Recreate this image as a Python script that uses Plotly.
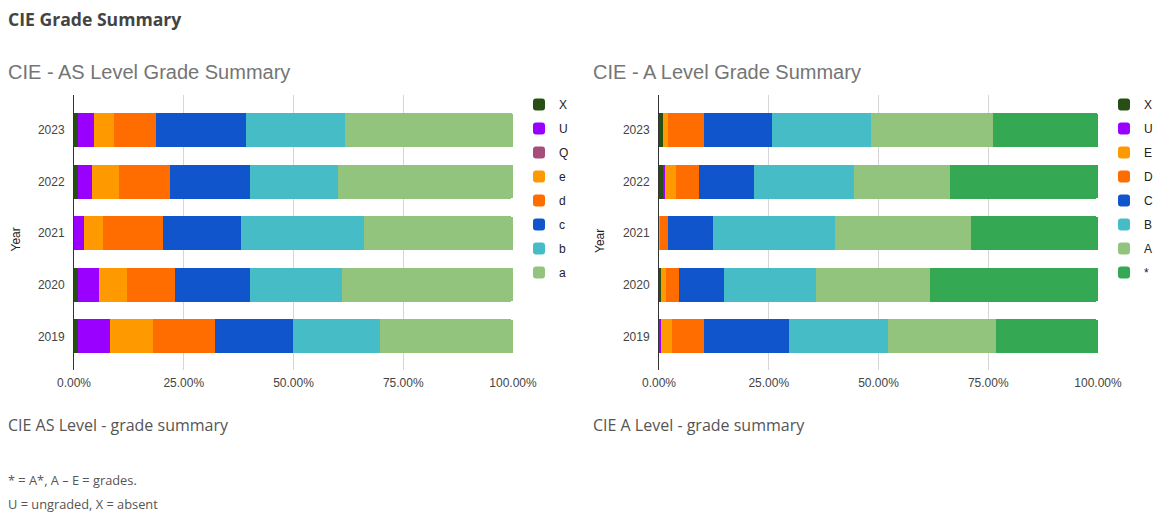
import plotly.graph_objects as go

W, H = 1154, 515

years = ["2019", "2020", "2021", "2022", "2023"]

# CIE AS Level (percent of candidates per grade, left to right in each bar)
as_grades = ["X", "U", "Q", "e", "d", "c", "b", "a"]
as_X = [0.8, 0.8, 0.0, 1.0, 0.8]
as_U = [7.3, 4.8, 2.2, 3.0, 3.7]
as_Q = [0.0, 0.0, 0.0, 0.0, 0.0]
as_e = [10.0, 6.4, 4.5, 6.2, 4.7]
as_d = [14.1, 11.1, 13.5, 11.6, 9.4]
as_c = [17.7, 17.0, 17.9, 18.4, 20.6]
as_b = [19.7, 20.9, 27.9, 19.9, 22.5]
as_a = [30.4, 39.0, 34.0, 39.9, 38.3]
as_colors = ["#274e13", "#9900ff", "#a64d79", "#ff9900", "#ff6d01", "#1155cc", "#46bdc6", "#93c47d"]

# CIE A Level
al_grades = ["X", "U", "E", "D", "C", "B", "A", "*"]
al_X = [0.0, 0.4, 0.0, 1.0, 0.8]
al_U = [0.4, 0.0, 0.0, 0.4, 0.0]
al_E = [2.6, 1.3, 0.3, 2.4, 1.3]
al_D = [7.3, 2.9, 1.8, 5.2, 8.2]
al_C = [19.2, 10.1, 10.3, 12.7, 15.5]
al_B = [22.6, 21.1, 27.7, 22.7, 22.5]
al_A = [24.6, 25.9, 30.9, 21.8, 27.7]
al_S = [23.3, 38.3, 29.0, 33.8, 24.0]
al_colors = ["#274e13", "#9900ff", "#ff9900", "#ff6d01", "#1155cc", "#46bdc6", "#93c47d", "#34a853"]

x_ticks = [0, 25, 50, 75, 100]
x_ticktext = ["0.00%", "25.00%", "50.00%", "75.00%", "100.00%"]

AXFONT = "Arial, Liberation Sans, sans-serif"
PAGEFONT = "Open Sans, sans-serif"

fig = go.Figure()

as_series = [as_X, as_U, as_Q, as_e, as_d, as_c, as_b, as_a]
for name, vals, col in zip(as_grades, as_series, as_colors):
    fig.add_trace(go.Bar(
        y=years, x=vals, orientation="h", name=name,
        marker=dict(color=col, line=dict(width=0)),
        xaxis="x", yaxis="y", legend="legend", legendgroup="as_" + name,
    ))

al_series = [al_X, al_U, al_E, al_D, al_C, al_B, al_A, al_S]
for name, vals, col in zip(al_grades, al_series, al_colors):
    fig.add_trace(go.Bar(
        y=years, x=vals, orientation="h", name=name,
        marker=dict(color=col, line=dict(width=0)),
        xaxis="x2", yaxis="y2", legend="legend2", legendgroup="al_" + name,
    ))


def xax(domain, anchor):
    return dict(
        domain=domain, anchor=anchor, range=[0, 100],
        tickvals=x_ticks, ticktext=x_ticktext,
        showgrid=True, gridcolor="#d6d6d6", gridwidth=1,
        zeroline=False, showline=False, ticks="", ticklabelstandoff=4,
        tickfont=dict(family=AXFONT, size=12, color="#444444"),
        automargin=False, fixedrange=True,
    )


def yax(domain, anchor):
    return dict(
        domain=domain, anchor=anchor, type="category",
        range=[-0.654, 4.683],
        showgrid=False, zeroline=False,
        showline=True, linecolor="#333333", linewidth=1,
        ticks="", ticklabelstandoff=6,
        tickfont=dict(family=AXFONT, size=12, color="#444444"),
        automargin=False, fixedrange=True,
    )


ydom = [1 - 370 / H, 1 - 95 / H]


def legend(xpx):
    return dict(
        x=xpx / W, y=1 - 90 / H, xanchor="left", yanchor="top",
        traceorder="grouped", tracegroupgap=5,
        font=dict(family=AXFONT, size=12, color="#222222"),
        bgcolor="rgba(0,0,0,0)", borderwidth=0,
        itemclick=False, itemdoubleclick=False,
    )


def ann(text, xpx, ypx, size, color, family, angle=0, xanchor="left"):
    return dict(
        text=text, x=xpx / W, y=1 - ypx / H, xref="paper", yref="paper",
        xanchor=xanchor, yanchor="middle", showarrow=False, textangle=angle,
        font=dict(size=size, color=color, family=family),
    )


annotations = [
    ann("<b>CIE Grade Summary</b>", 6, 19, 17.6, "#444444", PAGEFONT),
    ann("CIE - AS Level Grade Summary", 6, 72, 20, "#757575", AXFONT),
    ann("CIE - A Level Grade Summary", 591, 72, 20, "#757575", AXFONT),
    ann("Year", 15.5, 240, 12, "#222222", AXFONT, angle=-90, xanchor="center"),
    ann("Year", 600, 241, 12, "#222222", AXFONT, angle=-90, xanchor="center"),
    ann("CIE AS Level - grade summary", 6, 425, 16, "#555555", PAGEFONT),
    ann("CIE A Level - grade summary", 591, 425, 16, "#555555", PAGEFONT),
    ann("* = A*, A \u2013 E = grades.", 6, 480, 12.8, "#555555", PAGEFONT),
    ann("U = ungraded, X = absent", 6, 504, 12.8, "#555555", PAGEFONT),
]

fig.update_layout(
    width=W, height=H,
    margin=dict(l=0, r=0, t=0, b=0, pad=0, autoexpand=False),
    paper_bgcolor="white", plot_bgcolor="white",
    barmode="stack", bargap=0.346, barcornerradius=2,
    showlegend=True,
    xaxis=xax([74 / W, 513 / W], "y"),
    yaxis=yax(ydom, "x"),
    xaxis2=xax([659 / W, 1098 / W], "y2"),
    yaxis2=yax(ydom, "x2"),
    legend=legend(519),
    legend2=legend(1104),
    annotations=annotations,
    hovermode=False,
)

fig.write_html(
    "out.html",
    config={"displayModeBar": False},
    post_script="document.body.style.margin='0';document.body.style.overflow='hidden';",
)
